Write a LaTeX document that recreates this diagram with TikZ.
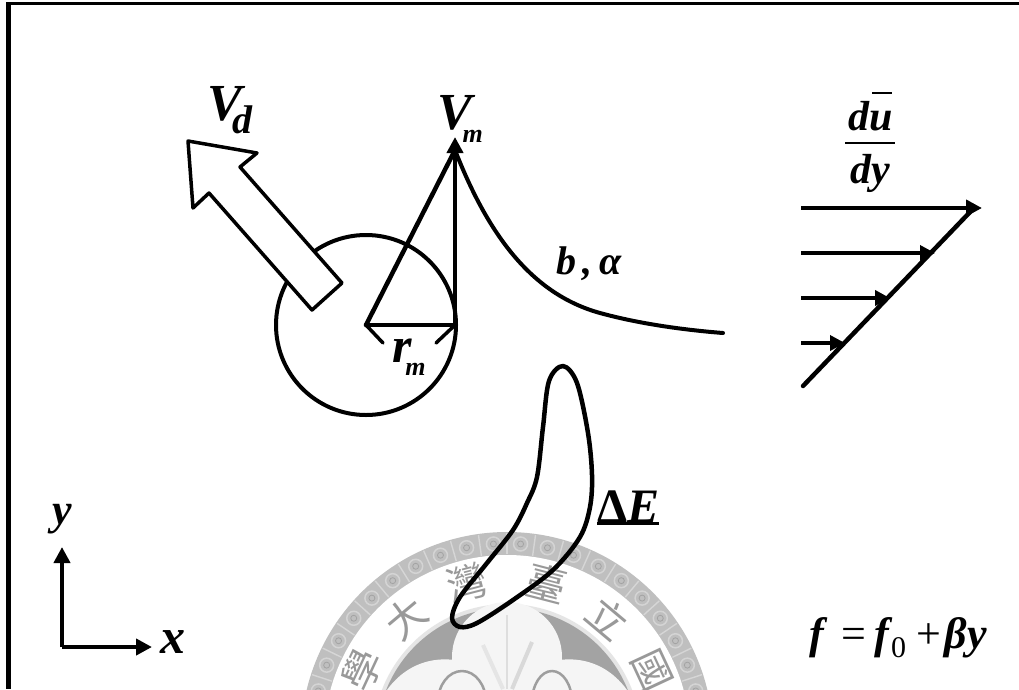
\documentclass[tikz,border=0pt]{standalone}
\usepackage{fontspec}
\setmainfont{Liberation Serif}
\newfontfamily\cjkseal{Noto Sans CJK TC}
\usetikzlibrary{arrows.meta,calc}
\newcommand{\fsz}[1]{\fontsize{#1}{#1}\selectfont}
\tikzset{
  lab/.style={inner sep=0pt,outer sep=0pt,anchor=base west,font=\bfseries\itshape},
  ink/.style={line width=#1,black,line cap=round,line join=round},
  ink/.default=3.5pt,
  headL/.style={-{Triangle[length=16pt,width=16pt]}},
  headS/.style={-{Triangle[length=15pt,width=15pt]}},
  sealchar/.style={inner sep=0pt,text=black!40,font=\cjkseal\fsz{40}},
}
\begin{document}
\begin{tikzpicture}[x=1pt,y=-1pt]
\useasboundingbox (0,0) rectangle (1019,689);
\fill[white] (0,0) rectangle (1019,689);
% ---- watermark seal
\coordinate (sc) at (507,738);
\begin{scope}
\clip (0,0) rectangle (1019,689);
\fill[black!25] (sc) circle (206);
\fill[white] (sc) circle (183);
\foreach \a in {-76,-68,...,76}{
  \draw[black!17,line width=1.5pt] ($(sc)+(90-\a:194.5pt)$) circle (7);
  \draw[black!36,line width=.8pt] ($(sc)+(90-\a:194.5pt)$) circle (3);
  \draw[black!16,line width=1.4pt] ($(sc)+(86-\a:184pt)$) -- ($(sc)+(86-\a:205pt)$);
}
\fill[black!10] (sc) circle (134);
\fill[black!36] (sc) circle (130);
\fill[black!4] (507,657) circle (55);
\fill[black!4] (372,720) .. controls (385,680) and (415,655) .. (455,660) -- (480,720) -- cycle;
\fill[black!4] (642,720) .. controls (629,680) and (599,655) .. (559,660) -- (534,720) -- cycle;
\fill[black!4] (470,665) rectangle (544,720);
\draw[black!38,line width=2.5pt] (462,702) ellipse (24 and 31);
\draw[black!38,line width=2.5pt] (552,702) ellipse (20 and 31);
\draw[black!13,line width=2pt] (507,615) -- (507,689);
\draw[black!10,line width=4pt] (483,645) -- (503,689);
\draw[black!15,line width=4pt] (532,642) -- (512,689);
\node[sealchar,rotate=-40]  (s1) at ($(sc)+(50:157pt)$) {立};
\node[sealchar,rotate=-14.5] (s2) at ($(sc)+(75.5:160pt)$) {臺};
\node[sealchar,rotate=14.5] (s3) at ($(sc)+(104.5:160pt)$) {灣};
\node[sealchar,rotate=40] (s4) at ($(sc)+(130:157pt)$) {大};
\node[sealchar,rotate=65] (s5) at ($(sc)+(155:160pt)$) {學};
\node[sealchar,rotate=-65]  (s6) at ($(sc)+(25:160pt)$) {國};
\end{scope}
% ---- frame
\fill[black] (6,2) rectangle (1019,4.5);
\fill[black] (6,2) rectangle (11,689);
% ---- vortex
\coordinate (ctr) at (366,325);
\coordinate (edge) at (455,325);
\coordinate (peak) at (455,137);
\coordinate (apex) at (455,150);
\draw[ink=4pt] (ctr) circle (90);
\draw[ink=3.5pt,fill=white] (188,141) -- (257,153) -- (240,167) -- (342,283) -- (312,310) -- (209,193) -- (193,208) -- cycle;
\draw[ink=4.5pt] (ctr) -- (apex);
\draw[ink=4.5pt,line cap=butt,headL] (edge) -- (peak);
\draw[ink=4pt] (ctr) -- (edge);
\coordinate (tl) at (383,343);
\coordinate (tr) at (436,343);
\draw[ink=3.5pt] (ctr) -- (tl);
\draw[ink=3.5pt] (edge) -- (tr);
\coordinate (cmid) at (600,313);
\coordinate (cend) at (723,333);
\draw[ink=4pt] (apex) .. controls (490,240) and (535,295) .. (cmid) .. controls (640,324) and (685,330) .. (cend);
% ---- shear
\coordinate (a0) at (801,208); \coordinate (a1) at (982,208);
\coordinate (b0) at (801,253); \coordinate (b1) at (935,253);
\coordinate (c0) at (801,298); \coordinate (c1) at (890,298);
\coordinate (d0) at (801,343); \coordinate (d1) at (845,343);
\coordinate (e0) at (971,211); \coordinate (e1) at (803,386);
\draw[ink=4.5pt,line cap=butt,headL] (a0) -- (a1);
\draw[ink=3.5pt,line cap=butt,headS] (b0) -- (b1);
\draw[ink=4.5pt,line cap=butt,headS] (c0) -- (c1);
\draw[ink=3.5pt,line cap=butt,headS] (d0) -- (d1);
\draw[ink=4.5pt] (e0) -- (e1);
% ---- blob
\draw[ink=4.5pt] plot[smooth cycle,tension=.55] coordinates {(563,366) (549,381) (543,427) (537,477) (527,503) (513,530) (487,563) (460,597) (452,618) (460,627) (477,623) (513,600) (553,570) (580,537) (590,507) (592,475) (588,433) (577,383)};
% ---- axes
\coordinate (o) at (62,647);
\coordinate (ytip) at (62,547);
\coordinate (xtip) at (152,647);
\draw[ink=4.5pt,line cap=butt,headL] (o) -- (ytip);
\draw[ink=4.5pt,line cap=butt,headL] (o) -- (xtip);
% ---- labels
\node[lab,font=\bfseries\itshape\fsz{52}] (vd) at (207,120) {V\kern-9pt\raisebox{-13pt}{\fsz{40}d}};
\node[lab,font=\bfseries\itshape\fsz{52}] (vm) at (437,129) {V\kern-9pt\raisebox{-13pt}{\fsz{26}m}};
\node[lab,font=\bfseries\itshape\fsz{50}] (rm) at (392,362) {r\kern-6pt\raisebox{-13pt}{\fsz{26}m}};
\node[lab,font=\bfseries\itshape\fsz{40}] (ba) at (556,274) {b\,,\,α};
\node[lab,font=\bfseries\fsz{48}] (de) at (597,522) {Δ\textit{E}};
\draw[ink=2.5pt,line cap=butt] ([yshift=-1.5pt]de.base west) -- ([yshift=-1.5pt]de.base east);
\node[lab,font=\bfseries\itshape\fsz{42}] (du) at (848,130) {du};
\coordinate (ol) at (872,93); \coordinate (or) at (892,93);
\draw[line width=2pt] (ol) -- (or);
\coordinate (fl) at (845,143); \coordinate (fr) at (895,143);
\draw[line width=2.5pt] (fl) -- (fr);
\node[lab,font=\bfseries\itshape\fsz{42}] (dy) at (850,183) {dy};
\node[lab,font=\bfseries\itshape\fsz{44}] (ly) at (52,524) {y};
\node[lab,font=\bfseries\itshape\fsz{50}] (lx) at (160,653) {x};
\node[lab,font=\bfseries\itshape\fsz{44}] (ff) at (809,648) {f\kern18pt{\upshape\mdseries=}\kern8pt f\kern2pt{\upshape\mdseries\raisebox{-9pt}{\fsz{30}0}}\kern10pt{\upshape\mdseries+}\kern4ptβy};
\end{tikzpicture}
\end{document}
